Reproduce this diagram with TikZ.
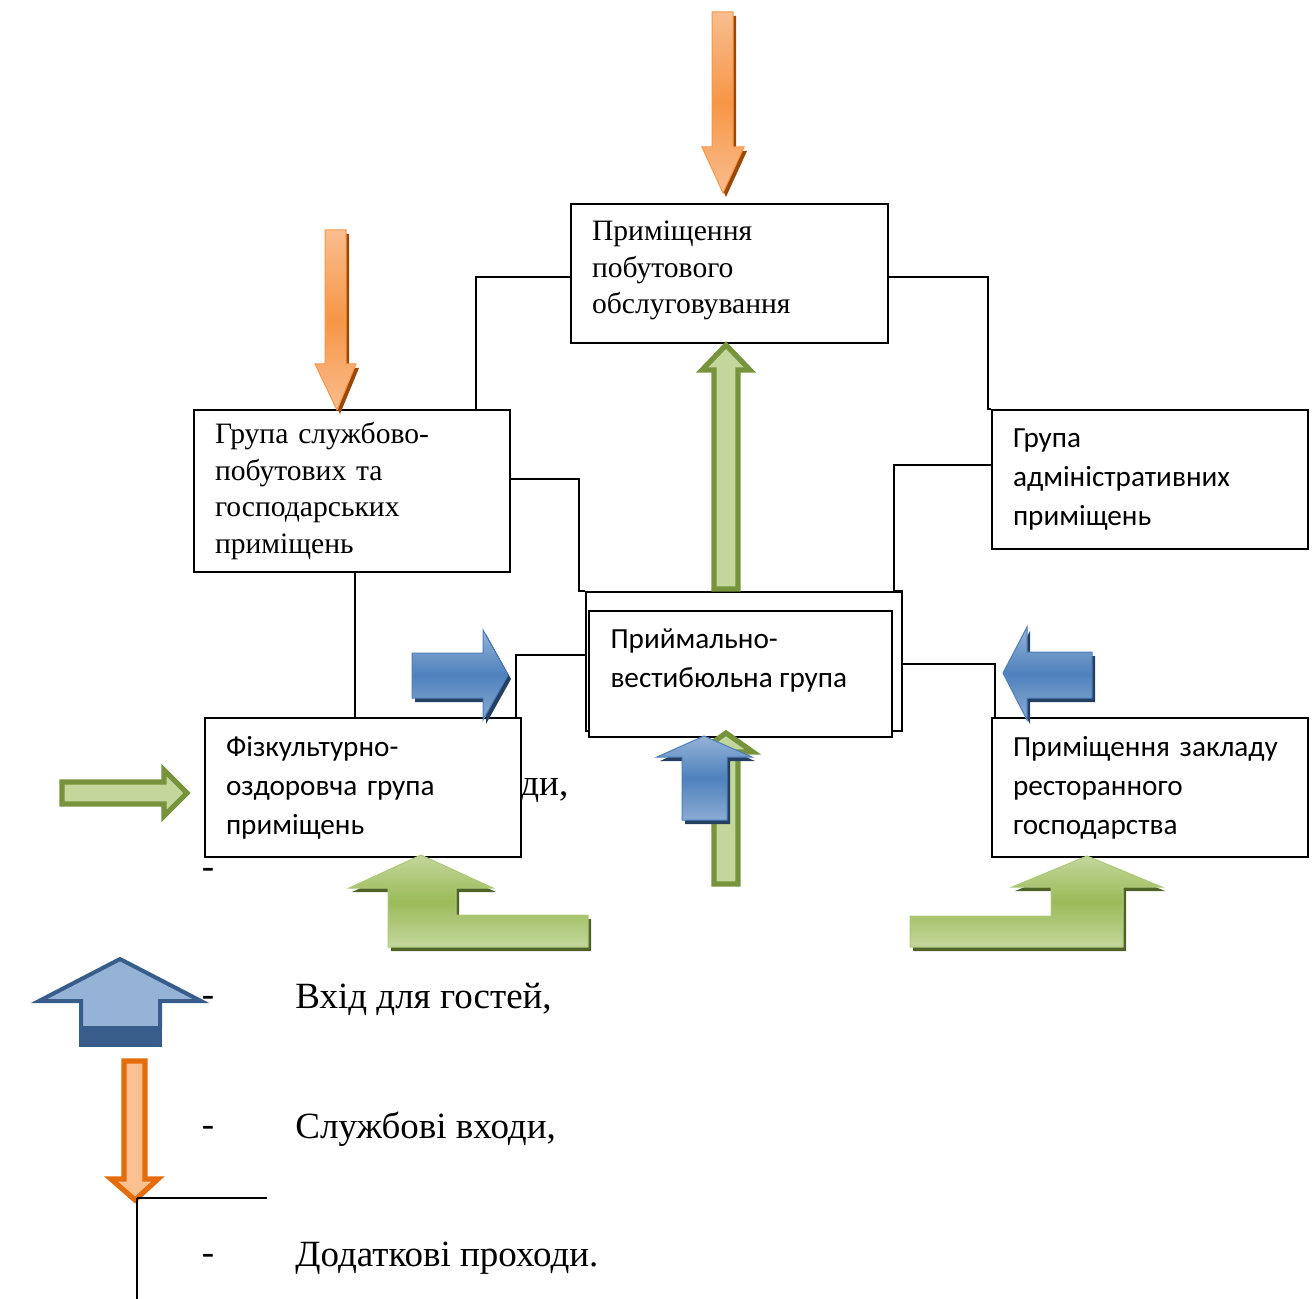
\documentclass[tikz,border=0pt]{standalone}
\usepackage{fontspec}
\setmainfont{Liberation Serif}
\newfontfamily\calfont{Carlito}
\usetikzlibrary{calc}

% palette
\definecolor{oL}{HTML}{F9BD8F}
\definecolor{oM}{HTML}{F79646}
\definecolor{oS}{HTML}{984807}
\definecolor{bL}{HTML}{95B3D7}
\definecolor{bM}{HTML}{4F81BD}
\definecolor{bB}{HTML}{4A7EBB}
\definecolor{bS}{HTML}{243F60}
\definecolor{gL}{HTML}{C3D69B}
\definecolor{gM}{HTML}{9BBB59}
\definecolor{gS}{HTML}{4F6228}
\definecolor{gO}{HTML}{77933C}
\definecolor{lbB}{HTML}{385D8A}
\definecolor{loF}{HTML}{FAC090}
\definecolor{loB}{HTML}{E46C0A}

% block arrow with a drop shadow: #1 path, #2 shadow colour, #3 body style
\newcommand\shadedarrow[3]{%
  \fill[#2, shift={(3,4)}] #1;
  \shadedraw[#3] #1;}

\begin{document}
\begin{tikzpicture}[x=0.5pt,y=-0.5pt,
  box/.style={draw, line width=1pt, fill=white, anchor=north west,
    inner xsep=10.5pt, inner ysep=0pt, text width=137pt, align=left},
  serifbox/.style={box, font=\fontsize{14.8}{18.2}\selectfont},
  sansbox/.style={box, font=\calfont\fontsize{14.6}{19.5}\selectfont},
  conn/.style={line width=0.8pt},
  orangeshade/.style={top color=oL, bottom color=oL, middle color=oM, draw=oM, line width=0.5pt},
  blueshade/.style={top color=bL, bottom color=bL!85!bM, middle color=bM, draw=bB, line width=0.5pt},
  greenshade/.style={top color=gL, bottom color=gL, middle color=gM, draw=gM!80!white, line width=0.5pt},
  greenoutline/.style={fill=gL, draw=gO, line width=2.6pt, line join=miter},
  legend/.style={font=\fontsize{18.5}{22}\selectfont, inner sep=0pt},
]
\useasboundingbox (0,0) rectangle (1316,1299);

% ---- room groups ----
\node[serifbox, minimum height=69.5pt, text width=137.5pt] (top) at (570,203)
  {\raisebox{1.5pt}[\height][\depth]{\parbox{137.5pt}{\raggedright Приміщення\\побутового\\обслуговування}}};
\node[serifbox, minimum height=81pt] (lb) at (193,409)
  {Група службово-\\побутових та\\господарських\\приміщень};
\node[sansbox, minimum height=69.5pt] (rb) at (991,409)
  {Група\\адміністративних\\приміщень};

% reception and lobby group: double frame
\node[draw, line width=1pt, fill=white, anchor=north west, inner sep=0pt,
  minimum width=158pt, minimum height=69.5pt] (co) at (585,591) {};
\node[draw, line width=1pt, fill=white, anchor=north west, inner xsep=10.5pt, inner ysep=0pt,
  minimum width=151.5pt, minimum height=63pt,
  font=\calfont\fontsize{14.6}{19.5}\selectfont] (ci) at (588,610)
  {\raisebox{6.8pt}[\height][\depth]{\parbox{130pt}{\raggedright Приймально-\\вестибюльна група}}};

\node[sansbox, minimum height=69.5pt] (bl) at (204,717)
  {Фізкультурно-\\оздоровча група\\приміщень};
\node[sansbox, minimum height=69.5pt] (br) at (991,717)
  {Приміщення закладу\\ресторанного\\господарства};

% ---- links between groups ----
\draw[conn] ($(top.north west)+(0,74)$) -| ($(lb.north west)+(283,0)$);
\draw[conn] ($(top.north east)+(0,74)$) -| ($(rb.north west)+(-3,0)$) -- (rb.north west);
\draw[conn] ($(lb.north east)+(0,70)$) -| ($(co.north west)+(-6,0)$) -- (co.north west);
\draw[conn] ($(rb.north west)+(0,56)$) -| ($(co.north east)+(-9,0)$) -- (co.north east);
\draw[conn] ($(lb.south west)+(162,0)$) -- ($(bl.north west)+(151,0)$);
\draw[conn] ($(co.north west)+(0,64)$) -| ($(bl.north east)+(-6,0)$);
\draw[conn] ($(co.north east)+(0,73)$) -| ($(br.north west)+(4,0)$);

% text partly hidden behind the sports group
\node[legend, anchor=mid west] (hid) at (520,791) {ди,};
\node[legend] (d0) at (208,873) {-};

% ---- service entrances (orange) ----
\shadedarrow{(712,12) -- (733,12) -- (733,147) -- (744,147) -- (723,193) -- (702,147) -- (712,147) -- cycle}{oS}{orangeshade}
\shadedarrow{(325,230) -- (346,230) -- (346,364) -- (356,364) -- (337,410) -- (315,364) -- (325,364) -- cycle}{oS}{orangeshade}

% ---- additional passages (green outline) ----
\draw[greenoutline] (726,345) -- (750,370) -- (738,370) -- (738,589) -- (714,589) -- (714,370) -- (702,370) -- cycle;
\draw[greenoutline] (726,733) -- (753,752) -- (738,752) -- (738,884) -- (714,884) -- (714,752) -- (699,752) -- cycle;
\draw[greenoutline] (62,782) -- (164,782) -- (164,770) -- (187,793) -- (164,816) -- (164,804) -- (62,804) -- cycle;

% ---- guest entrances (blue) ----
\shadedarrow{(704,736) -- (752,757) -- (727,757) -- (727,820) -- (682,820) -- (682,757) -- (657,757) -- cycle}{bS}{blueshade}
\shadedarrow{(412,653) -- (483,653) -- (483,630) -- (508,675) -- (483,720) -- (483,698) -- (412,698) -- cycle}{bS}{blueshade}
\shadedarrow{(1092,652) -- (1027,652) -- (1027,627) -- (1003,673) -- (1027,720) -- (1027,698) -- (1092,698) -- cycle}{bS}{blueshade}

% ---- bent green entrances ----
\shadedarrow{(421,855) -- (493,888) -- (456,888) -- (456,915) -- (588,915) -- (588,947) -- (388,947) -- (388,888) -- (349,888) -- cycle}{gS}{greenshade}
\shadedarrow{(1087,856) -- (1162,887) -- (1123,887) -- (1123,947) -- (910,947) -- (910,916) -- (1051,916) -- (1051,887) -- (1012,887) -- cycle}{gS}{greenshade}

% ---- legend ----
\fill[lbB] (79,1026) rectangle (162,1047);
\draw[fill=bL, draw=lbB, line width=2pt, line join=miter]
  (120,959) -- (201,1001) -- (160,1001) -- (160,1028) -- (81,1028) -- (81,1001) -- (39,1001) -- cycle;
\draw[fill=loF, draw=loB, line width=2.6pt, line join=miter]
  (124,1061) -- (145,1061) -- (145,1179) -- (158,1179) -- (135,1200) -- (111,1179) -- (124,1179) -- cycle;
\coordinate (lg) at (137,1198);
\draw[conn] (lg) -- (267,1198);
\draw[conn] (lg) -- (137,1299);

\node[legend] (d1) at (208,1001) {-};
\node[legend] (d2) at (208,1131) {-};
\node[legend] (d3) at (208,1259) {-};
\node[legend, anchor=mid west] (t1) at (295,1004) {Вхід для гостей,};
\node[legend, anchor=mid west] (t2) at (295,1134) {Службові входи,};
\node[legend, anchor=mid west] (t3) at (295,1262) {Додаткові проходи.};
\end{tikzpicture}
\end{document}
